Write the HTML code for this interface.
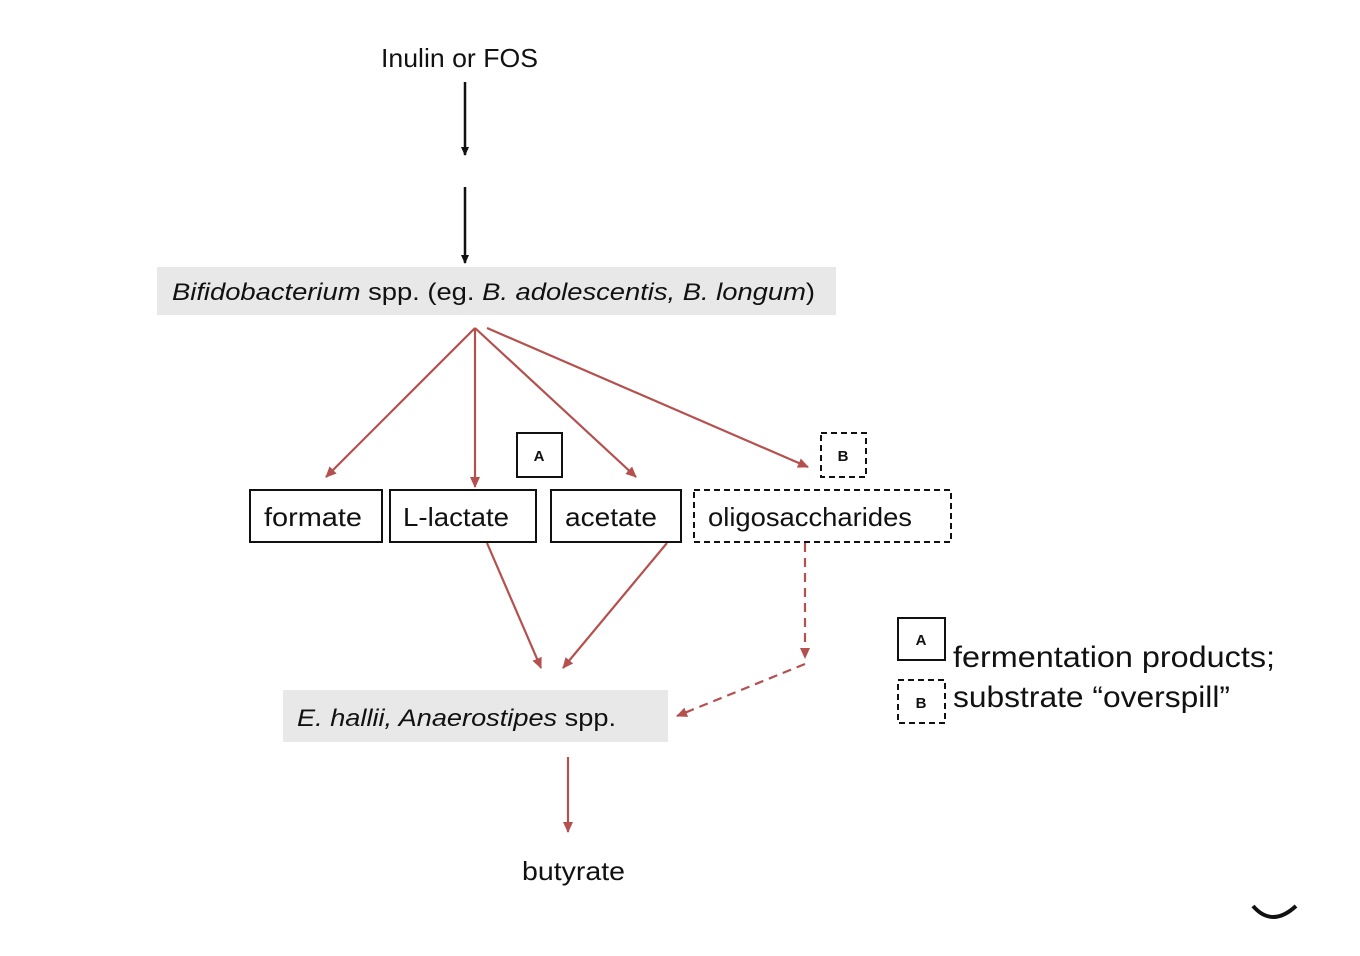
<!DOCTYPE html>
<html><head><style>body{margin:0;background:#fff}svg{display:block}text{font-family:"Liberation Sans",sans-serif;fill:#111}</style></head>
<body>
<svg width="1360" height="956" viewBox="0 0 1360 956" xmlns="http://www.w3.org/2000/svg">
<defs>
<marker id="bk" markerWidth="10" markerHeight="10" refX="8" refY="5" orient="auto" markerUnits="userSpaceOnUse"><path d="M0,1 L9,5 L0,9 z" fill="#111"/></marker>
<marker id="rd" markerWidth="12" markerHeight="12" refX="10" refY="6" orient="auto" markerUnits="userSpaceOnUse"><path d="M0,1 L11,6 L0,11 z" fill="#b4504e"/></marker>
</defs>
<text x="381" y="67" font-size="26" textLength="157" lengthAdjust="spacingAndGlyphs">Inulin or FOS</text>
<line x1="465" y1="82" x2="465" y2="155" stroke="#111" stroke-width="2.5" marker-end="url(#bk)"/>
<line x1="465" y1="187" x2="465" y2="263" stroke="#111" stroke-width="2.5" marker-end="url(#bk)"/>
<rect x="157" y="267" width="679" height="48" fill="#e8e8e8"/>
<text x="172" y="300" font-size="24" fill="#222" textLength="643" lengthAdjust="spacingAndGlyphs"><tspan font-style="italic">Bifidobacterium</tspan> spp. (eg. <tspan font-style="italic">B. adolescentis, B. longum</tspan>)</text>
<g stroke="#b4504e" stroke-width="2.2" fill="none">
<line x1="475" y1="328" x2="326" y2="477" marker-end="url(#rd)"/>
<line x1="475" y1="328" x2="475" y2="487" marker-end="url(#rd)"/>
<line x1="475" y1="328" x2="636" y2="477" marker-end="url(#rd)"/>
<line x1="487" y1="328" x2="808" y2="467" marker-end="url(#rd)"/>
<line x1="487" y1="543" x2="541" y2="668" marker-end="url(#rd)"/>
<line x1="667" y1="543" x2="563" y2="668" marker-end="url(#rd)"/>
<line x1="805" y1="543" x2="805" y2="658" stroke-dasharray="9,6" marker-end="url(#rd)"/>
<line x1="805" y1="664" x2="677" y2="716" stroke-dasharray="9,6" marker-end="url(#rd)"/>
<line x1="568" y1="757" x2="568" y2="832" marker-end="url(#rd)"/>
</g>
<g stroke="#111" stroke-width="2" fill="#fff">
<rect x="517" y="433" width="45" height="44"/>
<rect x="821" y="433" width="45" height="44" stroke-dasharray="6,4"/>
<rect x="250" y="490" width="132" height="52"/>
<rect x="390" y="490" width="146" height="52"/>
<rect x="551" y="490" width="130" height="52"/>
<rect x="694" y="490" width="257" height="52" stroke-dasharray="6,4"/>
<rect x="898" y="618" width="47" height="42"/>
<rect x="898" y="680" width="47" height="43" stroke-dasharray="6,4"/>
</g>
<g font-weight="bold" font-size="15" text-anchor="middle">
<text x="539" y="461">A</text><text x="843" y="461">B</text>
<text x="921" y="645">A</text><text x="921" y="708">B</text>
</g>
<g font-size="26" lengthAdjust="spacingAndGlyphs">
<text x="264" y="526" textLength="98" lengthAdjust="spacingAndGlyphs">formate</text>
<text x="403" y="526" textLength="106" lengthAdjust="spacingAndGlyphs">L-lactate</text>
<text x="565" y="526" textLength="92" lengthAdjust="spacingAndGlyphs">acetate</text>
<text x="708" y="526" textLength="204" lengthAdjust="spacingAndGlyphs">oligosaccharides</text>
</g>
<rect x="283" y="690" width="385" height="52" fill="#e8e8e8"/>
<text x="297" y="726" font-size="24" fill="#222" textLength="319" lengthAdjust="spacingAndGlyphs"><tspan font-style="italic">E. hallii, Anaerostipes</tspan> spp.</text>
<text x="522" y="880" font-size="26" textLength="103" lengthAdjust="spacingAndGlyphs">butyrate</text>
<text x="953" y="667" font-size="30" textLength="322" lengthAdjust="spacingAndGlyphs">fermentation products;</text>
<text x="953" y="707" font-size="30" textLength="277" lengthAdjust="spacingAndGlyphs">substrate “overspill”</text>
<path d="M1253,906 Q1272,928 1296,906" stroke="#111" stroke-width="4" fill="none"/>
</svg>
</body></html>
